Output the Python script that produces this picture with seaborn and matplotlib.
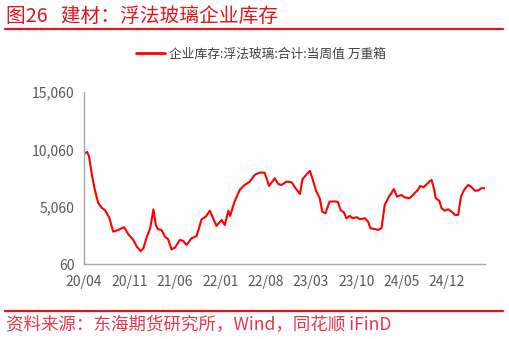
import matplotlib
matplotlib.use("Agg")
import matplotlib.pyplot as plt
from matplotlib.ticker import FixedLocator, FuncFormatter
from matplotlib.lines import Line2D
import seaborn as sns
import pandas as pd

# ---- data ----
dates = [
    "2020-04-04", "2020-04-16", "2020-04-25", "2020-05-08", "2020-05-22", "2020-06-07",
    "2020-06-23", "2020-07-08", "2020-07-28", "2020-08-16", "2020-09-09", "2020-09-25",
    "2020-10-07", "2020-10-26", "2020-11-19", "2020-12-05", "2020-12-23", "2021-01-05",
    "2021-01-21", "2021-02-06", "2021-02-21", "2021-03-04", "2021-03-15", "2021-03-31",
    "2021-04-16", "2021-05-01", "2021-05-17", "2021-06-02", "2021-06-25", "2021-07-10",
    "2021-07-26", "2021-08-19", "2021-09-12", "2021-10-05", "2021-10-25", "2021-11-13",
    "2021-11-28", "2021-12-14", "2022-01-07", "2022-01-22", "2022-02-08", "2022-02-16",
    "2022-03-09", "2022-04-02", "2022-04-25", "2022-05-19", "2022-06-12", "2022-07-05",
    "2022-07-28", "2022-08-18", "2022-09-14", "2022-09-30", "2022-10-15", "2022-11-08",
    "2022-12-02", "2022-12-17", "2023-01-10", "2023-01-22", "2023-02-08", "2023-02-26",
    "2023-03-12", "2023-03-27", "2023-04-13", "2023-04-25", "2023-05-10", "2023-05-29",
    "2023-06-22", "2023-07-07", "2023-07-20", "2023-08-05", "2023-08-16", "2023-09-01",
    "2023-09-14", "2023-10-05", "2023-10-18", "2023-11-11", "2023-11-26", "2023-12-07",
    "2023-12-27", "2024-01-12", "2024-01-28", "2024-02-12", "2024-03-03", "2024-03-14",
    "2024-03-26", "2024-04-10", "2024-04-30", "2024-05-15", "2024-06-08", "2024-07-01",
    "2024-07-17", "2024-07-28", "2024-08-13", "2024-09-03", "2024-09-19", "2024-09-30",
    "2024-10-09", "2024-10-25", "2024-11-05", "2024-11-20", "2024-12-06", "2024-12-22",
    "2025-01-07", "2025-01-22", "2025-02-04", "2025-02-19", "2025-03-09", "2025-03-24",
    "2025-04-10", "2025-04-25", "2025-05-11", "2025-05-26",
]
inventory = [
    9720, 9830, 9420, 7830, 6520, 5360,
    4970, 4770, 4140, 2880, 3030, 3180,
    3260, 2650, 2150, 1570, 1190, 1430,
    2440, 3180, 4830, 3460, 3090, 3030,
    2440, 2220, 1340, 1480, 2150, 2090,
    1720, 2300, 2500, 3960, 4190, 4710,
    4050, 3380, 3900, 3460, 4710, 4250,
    5500, 6520, 6950, 7240, 7830, 8030,
    8030, 6870, 7540, 7040, 6950, 7240,
    7190, 6750, 6170, 7450, 7830, 8180,
    7390, 6430, 5790, 4620, 4480, 5500,
    5520, 5480, 4770, 4540, 4050, 4250,
    4050, 4140, 3960, 4050, 3750, 3180,
    3110, 3030, 3180, 5210, 5930, 6230,
    6600, 5930, 6080, 5880, 5790, 6230,
    6520, 6870, 6750, 7150, 7390, 6670,
    5790, 5580, 4920, 4710, 4830, 4620,
    4340, 4340, 5930, 6520, 6950, 6800,
    6460, 6460, 6670, 6670,
]
y_ticks = [60, 5060, 10060, 15060]
x_tick_dates = ["2020-04-01", "2020-11-01", "2021-06-01", "2022-01-01", "2022-08-01",
                "2023-03-01", "2023-10-01", "2024-05-01", "2024-12-01"]
x_tick_labels = ["20/04", "20/11", "21/06", "22/01", "22/08", "23/03", "23/10", "24/05", "24/12"]
series_name = "企业库存:浮法玻璃:合计:当周值 万重箱"
title_text = "图26   建材：浮法玻璃企业库存"
source_text = "资料来源：东海期货研究所，Wind，同花顺 iFinD"

df = pd.DataFrame({"date": pd.to_datetime(dates), "value": inventory})

# ---- style ----
sns.set_style("white")
plt.rcParams["font.family"] = ["Noto Sans CJK SC", "DejaVu Sans"]
plt.rcParams["axes.unicode_minus"] = False

RED_LINE = "#FF0000"
TITLE_RED = "#E2141E"
SRC_RED = "#E8374A"
GRAY_TXT = "#595959"
AXIS_GRAY = "#A6A6A6"

fig = plt.figure(figsize=(5.09, 3.39), dpi=100)
ax = fig.add_axes([84 / 509, 1 - 264 / 339, (485 - 84) / 509, (264 - 92) / 339])

sns.lineplot(data=df, x="date", y="value", ax=ax, color=RED_LINE, linewidth=1.5,
             legend=False)

ax.set_ylim(60, 15060)
ax.set_xlim(pd.Timestamp("2020-04-01"), pd.Timestamp("2025-05-28"))
ax.yaxis.set_major_locator(FixedLocator(y_ticks))
ax.yaxis.set_major_formatter(FuncFormatter(lambda v, p: f"{int(round(v)):,}"))
ax.set_xticks(pd.to_datetime(x_tick_dates))
ax.set_xticklabels(x_tick_labels)
ax.set_xlabel("")
ax.set_ylabel("")

for side in ["top", "right"]:
    ax.spines[side].set_visible(False)
for side in ["left", "bottom"]:
    ax.spines[side].set_color(AXIS_GRAY)
    ax.spines[side].set_linewidth(1.0)
ax.tick_params(axis="both", colors=AXIS_GRAY, labelcolor=GRAY_TXT, labelsize=10,
               length=4, width=1.0, direction="out")
ax.tick_params(axis="x", pad=4)
ax.tick_params(axis="y", pad=3)
ax.grid(False)

# legend
handle = Line2D([0], [0], color=RED_LINE, linewidth=2)
fig.legend([handle], [series_name], loc="center", bbox_to_anchor=(261 / 509, 1 - 54 / 339),
           frameon=False, fontsize=9.2, handlelength=2.3, handletextpad=0.3,
           labelcolor="#404040")

# title and rules
fig.text(6 / 509, 1 - 16 / 339, title_text, color=TITLE_RED, fontsize=14.2,
         fontweight="medium", ha="left", va="center")
fig.add_artist(Line2D([5 / 509, 503 / 509], [1 - 28.5 / 339] * 2, color=TITLE_RED,
                      linewidth=1.6, transform=fig.transFigure))
fig.add_artist(Line2D([5 / 509, 503 / 509], [1 - 310.5 / 339] * 2, color=TITLE_RED,
                      linewidth=1.6, transform=fig.transFigure))
fig.text(6 / 509, 1 - 325 / 339, source_text, color=SRC_RED, fontsize=12.6,
         ha="left", va="center")

fig.savefig("out.png", dpi=100)
